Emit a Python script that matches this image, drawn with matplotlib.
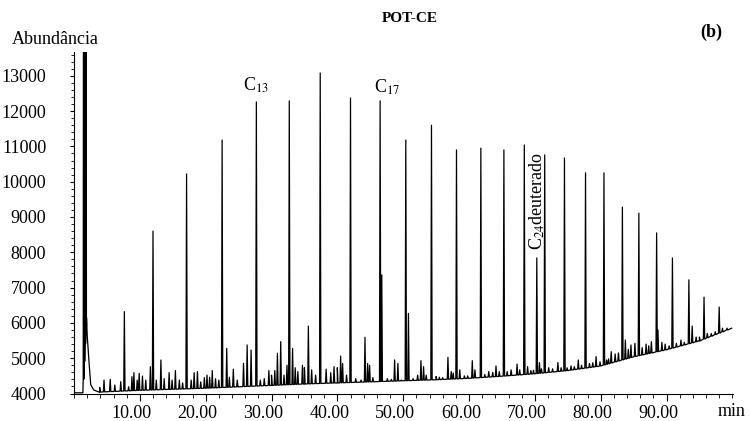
"""
Cromatograma POT-CE (b) - abundancia em funcao do tempo de retencao
"""

import numpy as np
import matplotlib.pyplot as plt
from matplotlib.ticker import FixedLocator, MultipleLocator
from matplotlib.transforms import ScaledTranslation

plt.rcParams['font.family'] = ['Liberation Serif', 'DejaVu Serif']
plt.rcParams['mathtext.fontset'] = 'stix'

# linha de base (min, abundancia)
base_t = [0.0, 1.35, 1.9, 2.02, 2.28, 2.54, 3.0, 3.9, 5, 10, 15, 20, 25, 30, 35,
          40, 45, 50, 55, 60, 65, 70, 75, 80, 85, 90, 95, 99.9]
base_v = [4020, 4020, 6150, 5600, 4900, 4250, 4100, 4040, 4050, 4090, 4120, 4150,
          4190, 4230, 4270, 4300, 4330, 4360, 4390, 4430, 4490, 4560, 4650, 4780,
          5040, 5240, 5490, 5850]

# solvente
solv_t = [1.45, 1.58, 1.71, 1.84]
solv_v = [20000, 20000, 20000, 20000]

# picos principais (n-alcanos)
alc_t = [7.65, 12.0, 17.1, 22.5, 27.7, 32.7, 37.4, 42.0, 46.5, 50.4, 54.3, 58.1,
         61.8, 65.3, 68.4, 71.5, 74.5, 77.7, 80.5, 83.3, 85.8, 88.5, 90.9, 93.4,
         95.7, 98.0]
alc_v = [6320, 8600, 10220, 11180, 12260, 12290, 13080, 12370, 12290, 11180, 11600,
         10900, 10950, 10900, 11040, 10760, 10670, 10250, 10250, 9280, 9110, 8550,
         7840, 7220, 6730, 6450]

# padrao C24 deuterado e picos secundarios
outros_t = [46.75, 50.8, 70.3]
outros_v = [7360, 6270, 7840]

# picos menores
men_t = [3.9, 4.56, 5.5, 6.2, 7.1, 8.3, 8.8, 9.1, 9.6, 9.9, 10.4, 10.9, 11.6, 12.5,
         13.2, 13.7, 14.45, 14.9, 15.4, 16.0, 16.5, 17.8, 18.25, 18.75, 19.25, 19.8,
         20.2, 20.6, 21.0, 21.5, 22.0, 23.2, 23.6, 24.2, 24.8,
         25.75, 26.3, 26.9, 28.3, 28.9, 29.6, 30.0, 30.5, 30.9, 31.4, 31.9, 32.35,
         33.2, 33.6, 34.0, 34.7, 35.0, 35.6, 36.1, 36.7, 38.3, 39.0, 39.5, 40.0,
         40.5, 40.8, 41.4, 42.8, 43.6, 44.2, 44.6, 44.9, 45.4, 47.6, 48.2, 48.7,
         49.2, 49.7,
         51.5, 52.2, 52.7, 53.1, 53.5, 55.0, 55.5, 56.0, 56.8, 57.3, 57.6, 58.6, 59.3,
         59.8, 60.5, 60.9, 62.4, 63.0, 63.6, 64.1, 64.6, 65.8, 66.4, 67.3, 67.7, 68.9,
         69.4, 69.8, 70.7, 71.0, 72.1, 72.7, 73.5, 74.0, 74.9,
         75.5, 76.0, 76.6, 77.1, 78.3, 78.8, 79.3, 79.9, 80.9, 81.2, 81.6, 82.2, 82.7,
         83.75, 84.2, 84.6, 85.2, 86.3, 86.9, 87.3, 87.7, 88.7, 89.3, 89.8, 90.4,
         91.5, 92.2, 92.7, 93.9, 94.5, 95.0, 96.2, 96.8, 97.4, 98.5, 99.2]
men_v = [4175, 4380, 4400, 4240, 4335, 4190, 4475, 4590, 4380, 4570, 4495, 4380, 4760,
         4380, 4950, 4420, 4590, 4380, 4650, 4380, 4300, 4380, 4590, 4620, 4330, 4450,
         4520, 4460, 4650, 4420, 4380, 5280, 4460, 4690, 4380,
         4855, 5375, 5230, 4380, 4420, 4650, 4520, 4650, 5140, 5470, 4520, 4800,
         5280, 4730, 4620, 4800, 4730, 5910, 4670, 4520, 4690, 4590, 4760, 4730,
         5060, 4850, 4520, 4420, 4380, 5590, 4850, 4800, 4450, 4420, 4400, 4950,
         4850, 4380,
         4420, 4520, 4930, 4760, 4520, 4480, 4460, 4450, 5025, 4620, 4580, 4670, 4500,
         4500, 4930, 4670, 4540, 4620, 4600, 4780, 4620, 4620, 4670, 4835, 4670, 4760,
         4650, 4660, 4875, 4700, 4730, 4700, 4875, 4730, 4730,
         4780, 4760, 4950, 4800, 4850, 4870, 5045, 4900, 4950, 4980, 5185, 5120, 5150,
         5515, 5250, 5375, 5420, 5300, 5400, 5350, 5470, 5800, 5450, 5400, 5350,
         5420, 5515, 5450, 5910, 5600, 5600, 5700, 5700, 5750, 5850, 5850]


def sinal():
    """ monta o tracado: linha de base + picos estreitos """
    t = list(base_t)
    v = list(base_v)
    for pt, pv in zip(solv_t + alc_t + outros_t + men_t,
                      solv_v + alc_v + outros_v + men_v):
        b = np.interp(pt, base_t, base_v)
        w = 0.05 if pv > 15000 else 0.1
        t += [pt - w, pt, pt + w]
        v += [b, pv, b]
    ordem = np.argsort(t, kind='stable')
    return np.array(t)[ordem], np.array(v)[ordem]


fig = plt.figure(figsize=(7.5, 4.21), dpi=100)
ax = fig.add_axes([74 / 750, 27.5 / 421, 659 / 750, 341.5 / 421])

tt, vv = sinal()
ax.plot(tt, vv, color='black', lw=0.9)

ax.set_xlim(0, 100.1)
ax.set_ylim(4000, 13674)
for s in ['top', 'right']:
    ax.spines[s].set_visible(False)

ax.xaxis.set_major_locator(FixedLocator(list(range(10, 100, 10))))
ax.xaxis.set_minor_locator(MultipleLocator(2))
ax.set_xticklabels(['%.2f' % x for x in range(10, 100, 10)])
ax.yaxis.set_major_locator(MultipleLocator(1000))
ax.yaxis.set_minor_locator(MultipleLocator(200))
ax.tick_params(axis='x', which='major', length=5, pad=3, labelsize=13)
ax.tick_params(axis='x', which='minor', length=3)
ax.tick_params(axis='y', which='major', length=3, pad=17, labelsize=13)
ax.tick_params(axis='y', which='minor', length=2)
desloc = ScaledTranslation(-0.08, 0, fig.dpi_scale_trans)
for lab in ax.get_xticklabels():
    lab.set_transform(lab.get_transform() + desloc)

fig.text(410 / 750, 1 - 18 / 421, 'POT-CE', ha='center', va='center',
         fontsize=11, fontweight='bold')
fig.text(711 / 750, 1 - 32 / 421, '(b)', ha='center', va='center',
         fontsize=13, fontweight='bold')
fig.text(12 / 750, 1 - 40 / 421, 'Abundância', ha='left', va='center', fontsize=13)
fig.text(732 / 750, 1 - 411 / 421, 'min', ha='center', va='center', fontsize=13)

ax.text(27.7, 12450, 'C$_{13}$', ha='center', va='bottom', fontsize=13)
ax.text(47.5, 12400, 'C$_{17}$', ha='center', va='bottom', fontsize=13)
ax.text(70.3, 8070, 'C$_{24}$deuterado', ha='center', va='bottom',
        rotation=90, fontsize=13)

fig.savefig('out.png', dpi=100)
